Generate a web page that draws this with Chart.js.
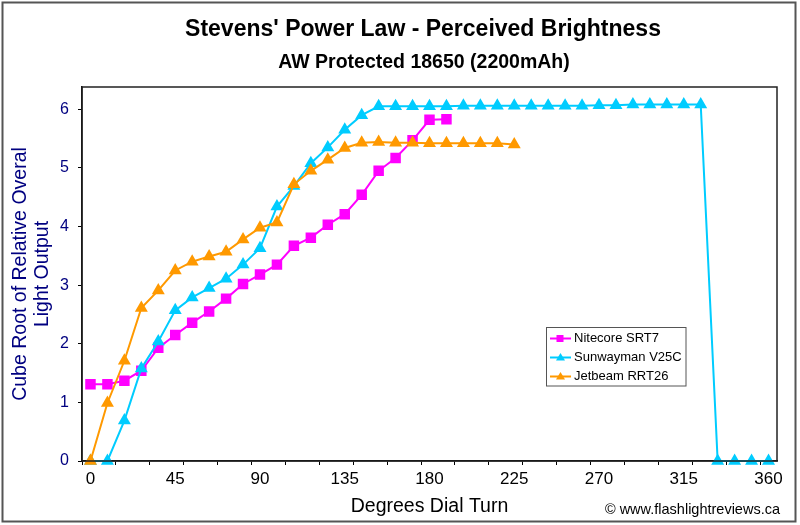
<!DOCTYPE html>
<html>
<head>
<meta charset="utf-8">
<script src="https://cdn.jsdelivr.net/npm/chart.js@4.4.0/dist/chart.umd.min.js"></script>
<style>
  html, body { margin: 0; padding: 0; background: #fff; }
</style>
</head>
<body>
<canvas id="line-Chart" width="800" height="525"></canvas>
<script>
// dial position (degrees) for every reading
const degrees = [0, 9, 18, 27, 36, 45, 54, 63, 72, 81, 90, 99, 108, 117, 126, 135, 144, 153, 162, 171,
                 180, 189, 198, 207, 216, 225, 234, 243, 252, 261, 270, 279, 288, 297, 306, 315, 324, 333, 342, 351, 360];

const nitecore = [1.31, 1.31, 1.37, 1.54, 1.93, 2.15, 2.36, 2.55, 2.77, 3.02, 3.18, 3.35, 3.67, 3.81, 4.03, 4.21,
                  4.54, 4.95, 5.17, 5.47, 5.82, 5.83];
const sunwayman = [0, 0, 0.69, 1.58, 2.04, 2.57, 2.79, 2.95, 3.11, 3.35, 3.63, 4.34, 4.69, 5.08, 5.35, 5.65,
                   5.90, 6.05, 6.05, 6.05, 6.05, 6.05, 6.06, 6.06, 6.06, 6.06, 6.06, 6.06, 6.06, 6.06, 6.07,
                   6.07, 6.08, 6.08, 6.08, 6.08, 6.08, 0, 0, 0, 0];
const jetbeam = [0, 0.99, 1.71, 2.61, 2.91, 3.25, 3.40, 3.49, 3.57, 3.78, 3.98, 4.07, 4.72, 4.95, 5.14, 5.34,
                 5.43, 5.44, 5.43, 5.43, 5.42, 5.42, 5.42, 5.42, 5.42, 5.40];

const xTickLabels = [0, 45, 90, 135, 180, 225, 270, 315, 360];
const yTickLabels = [0, 1, 2, 3, 4, 5, 6];

const FONT = '"Liberation Sans", Arial, sans-serif';

function toPoints(vals) {
    return vals.map((v, i) => ({ x: degrees[i], y: v }));
}

// small tick marks sit between categories, every second one
const minorMarks = [];
for (let v = -4.5; v < 364.5; v += 18) minorMarks.push(v);

const decor = {
    id: 'decor',
    afterDraw(chart) {
        const c = chart.ctx;
        const a = chart.chartArea;
        c.save();
        // plot frame
        c.strokeStyle = '#222';
        c.lineWidth = 1.5;
        c.strokeRect(a.left, a.top, a.right - a.left, a.bottom - a.top);
        // outer frame
        c.strokeStyle = '#555';
        c.lineWidth = 2;
        c.strokeRect(2.5, 2.5, 793, 519);

        // titles
        c.fillStyle = '#000';
        c.textAlign = 'center';
        c.textBaseline = 'middle';
        c.font = 'bold 23px ' + FONT;
        c.fillText("Stevens' Power Law - Perceived Brightness", 423, 30);
        c.font = 'bold 19.5px ' + FONT;
        c.fillText('AW Protected 18650 (2200mAh)', 424, 63);

        // copyright
        c.textAlign = 'right';
        c.font = '14.5px ' + FONT;
        c.fillText('\u00A9 www.flashlightreviews.ca', 780, 510);

        // legend
        const lx = 546.5, ly = 327.5, lw = 139.5, lh = 58.5;
        c.fillStyle = '#fff';
        c.fillRect(lx, ly, lw, lh);
        c.strokeStyle = '#555';
        c.lineWidth = 1;
        c.strokeRect(lx, ly, lw, lh);
        const rows = [338.5, 357.5, 376.5];
        chart.data.datasets.forEach((ds, i) => {
            const y = rows[i];
            c.strokeStyle = ds.borderColor;
            c.lineWidth = 2;
            c.beginPath();
            c.moveTo(550, y);
            c.lineTo(571, y);
            c.stroke();
            c.fillStyle = ds.borderColor;
            c.beginPath();
            if (ds.pointStyle === 'rect') {
                c.rect(556.5, y - 3.5, 7, 7);
            } else {
                c.moveTo(560.5, y - 4.5);
                c.lineTo(565, y + 3);
                c.lineTo(556, y + 3);
                c.closePath();
            }
            c.fill();
            c.fillStyle = '#000';
            c.textAlign = 'left';
            c.font = '13px ' + FONT;
            c.fillText(ds.label, 574, y);
        });
        c.restore();
    }
};

const ctx = document.getElementById('line-Chart').getContext('2d');
const myChart = new Chart(ctx, {
    type: 'line',
    data: {
        datasets: [{
            label: 'Nitecore SRT7',
            data: toPoints(nitecore),
            borderColor: '#FF00FF',
            backgroundColor: '#FF00FF',
            pointStyle: 'rect',
            pointRadius: 6,
            borderWidth: 2,
            order: 2
        },
        {
            label: 'Sunwayman V25C',
            data: toPoints(sunwayman),
            borderColor: '#00CCFF',
            backgroundColor: '#00CCFF',
            pointStyle: 'triangle',
            pointRadius: 5.5,
            borderWidth: 2,
            order: 1
        },
        {
            label: 'Jetbeam RRT26',
            data: toPoints(jetbeam),
            borderColor: '#FF9900',
            backgroundColor: '#FF9900',
            pointStyle: 'triangle',
            pointRadius: 5.5,
            borderWidth: 2,
            order: 0
        }]
    },
    options: {
        responsive: false,
        animation: false,
        devicePixelRatio: 1,
        layout: { padding: { top: 87, right: 23, left: 0, bottom: 0 } },
        elements: {
            line: { tension: 0 },
            point: { borderWidth: 1, hoverRadius: 6 }
        },
        datasets: { line: { clip: false } },
        plugins: {
            legend: { display: false },
            title: { display: false },
            tooltip: { enabled: false }
        },
        scales: {
            x: {
                type: 'linear',
                min: -4.5,
                max: 364.5,
                afterBuildTicks: s => {
                    s.ticks = xTickLabels.concat(minorMarks).sort((p, q) => p - q).map(v => ({ value: v }));
                },
                afterFit: s => { s.height = 64; },
                ticks: {
                    autoSkip: false,
                    maxRotation: 0,
                    color: '#000',
                    padding: 4,
                    font: { family: FONT, size: 17 },
                    callback: v => xTickLabels.includes(v) ? String(v) : ''
                },
                grid: {
                    drawOnChartArea: false,
                    tickLength: 4,
                    tickWidth: 1,
                    tickColor: c => (c.tick && xTickLabels.includes(c.tick.value)) ? 'rgba(0,0,0,0)' : '#000'
                },
                border: { color: '#000', width: 1.5 },
                title: {
                    display: true,
                    text: 'Degrees Dial Turn',
                    color: '#000',
                    font: { family: FONT, size: 19.5 },
                    padding: { top: 0, bottom: 7 }
                }
            },
            y: {
                min: 0,
                max: 6.38,
                afterBuildTicks: s => { s.ticks = yTickLabels.map(v => ({ value: v })); },
                afterFit: s => { s.width = 82; },
                ticks: {
                    color: '#000080',
                    padding: 9,
                    font: { family: FONT, size: 16 }
                },
                grid: {
                    drawOnChartArea: false,
                    tickLength: 4,
                    tickColor: '#000'
                },
                border: { color: '#000', width: 1.5 },
                title: {
                    display: true,
                    text: ['Cube Root of Relative Overal', 'Light Output'],
                    color: '#000080',
                    font: { family: FONT, size: 19.5, lineHeight: 1.13 },
                    padding: { top: 10, bottom: 0 }
                }
            }
        }
    },
    plugins: [decor]
});
</script>
</body>
</html>
